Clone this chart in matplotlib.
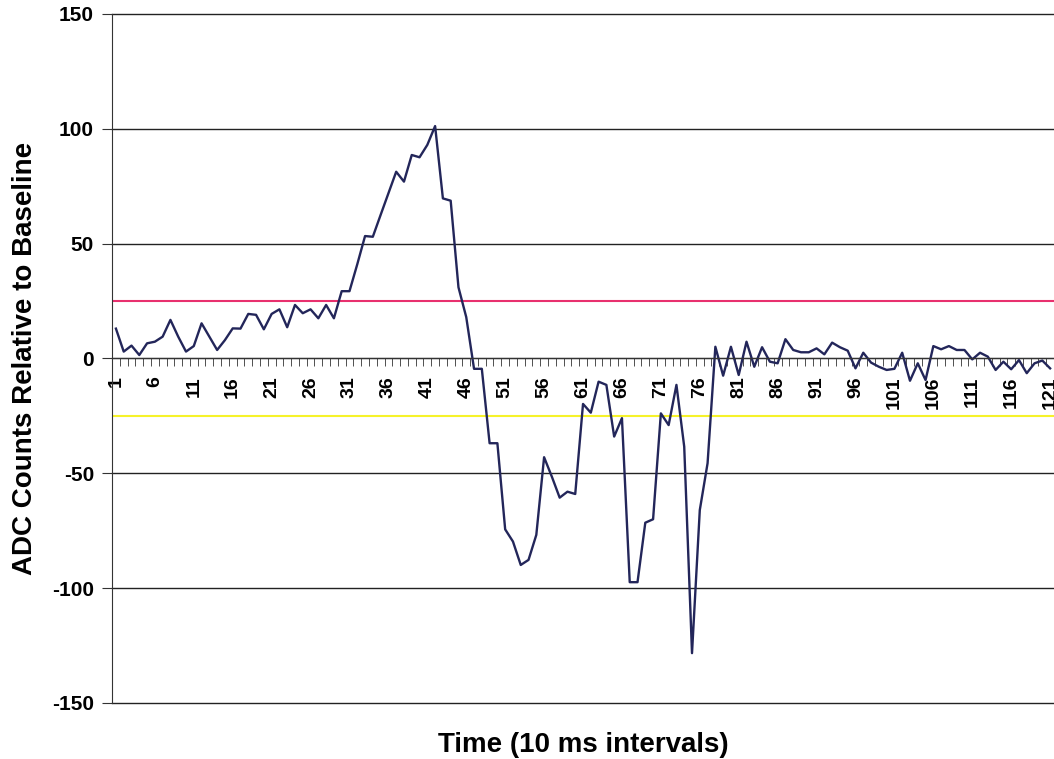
import matplotlib
matplotlib.use("Agg")
import matplotlib.pyplot as plt
import numpy as np

plt.rcParams['font.family'] = ['Liberation Sans', 'DejaVu Sans']

# ADC samples relative to baseline, one per 10 ms interval
counts = [
    13, 3, 5.6, 1.5, 6.6, 7.3, 9.5, 16.8, 9.5, 3,
    5.4, 15.3, 9.5, 3.7, 8, 13.1, 13, 19.4, 19, 12.7,
    19.4, 21.4, 13.6, 23.3, 19.7, 21.4, 17.5, 23.3, 17.5, 29.3,
    29.3, 41, 53.3, 53, 62.5, 71.9, 81.3, 77, 88.6, 87.6,
    93, 101.2, 69.7, 68.7, 31, 18, -4.5, -4.5, -36.9, -36.9,
    -74.4, -79.7, -89.9, -87.7, -76.8, -43, -51.5, -60.6, -58, -59,
    -19.8, -23.6, -10.1, -11.5, -34, -26, -97.4, -97.4, -71.5, -70,
    -23.9, -29, -11.5, -38.4, -128.3, -66, -45.6, 5.1, -7.5, 5.1,
    -7.2, 7.3, -3.6, 4.9, -1.4, -2.1, 8.4, 3.7, 2.7, 2.7,
    4.4, 1.8, 6.9, 4.9, 3.4, -4.3, 2.5, -1.8, -3.6, -5,
    -4.5, 2.5, -9.7, -2.1, -9.4, 5.4, 4, 5.4, 3.7, 3.7,
    -0.4, 2.5, 0.8, -5, -1.4, -4.7, -0.7, -6.4, -2.1, -0.9,
    -4.3,
]
upper_threshold = 25
lower_threshold = -25
y_ticks = [-150, -100, -50, 0, 50, 100, 150]

samples = np.arange(1, len(counts) + 1)

fig = plt.figure(figsize=(10.54, 7.59), dpi=100)
ax = fig.add_axes([0.1063, 0.0738, 0.8937, 0.9078])

ax.set_xlim(0.5, len(counts) + 0.5)
ax.set_ylim(-150, 150)

ax.grid(axis='y', color='#222222', linewidth=1.0)
ax.set_axisbelow(True)

ax.axhline(upper_threshold, color='#e8306e', linewidth=1.5)
ax.axhline(lower_threshold, color='#f6f22a', linewidth=1.5)
ax.plot(samples, counts, color='#23265a', linewidth=1.7)

# category axis runs along y = 0
for side in ('top', 'right'):
    ax.spines[side].set_visible(False)
ax.spines['bottom'].set_position(('data', 0))
ax.spines['bottom'].set_color('#333333')
ax.spines['left'].set_color('#333333')

ax.set_xticks(samples[::5])
ax.set_xticklabels([str(s) for s in samples[::5]], rotation=90,
                   fontsize=14, fontweight='bold')
ax.set_xticks(np.arange(0.5, len(counts) + 1), minor=True)
ax.tick_params(axis='x', which='major', length=0, pad=13)
ax.tick_params(axis='x', which='minor', length=6, direction='out', color='#333333')

ax.set_yticks(y_ticks)
ax.set_yticklabels([str(v) for v in y_ticks], fontsize=15, fontweight='bold')
ax.tick_params(axis='y', length=7, color='#333333', pad=6)

# keep the top and bottom gridlines at full width
for line in ax.get_ygridlines():
    line.set_clip_on(False)

fig.text(0.553, 0.018, 'Time (10 ms intervals)', ha='center', va='center',
         fontsize=20, fontweight='bold')
fig.text(0.024, 0.528, 'ADC Counts Relative to Baseline', ha='center', va='center',
         rotation=90, fontsize=20, fontweight='bold')

fig.savefig('out.png', dpi=100)
